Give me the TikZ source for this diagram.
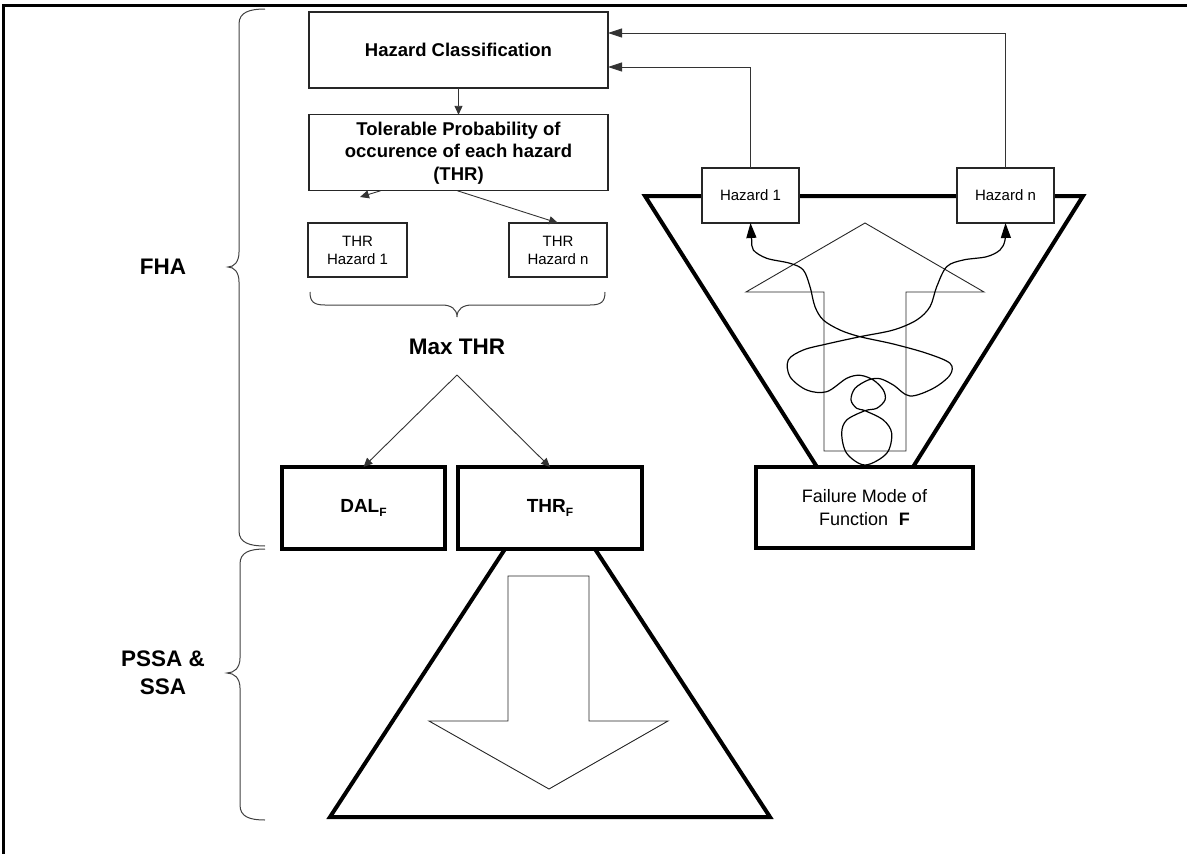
\documentclass[tikz,border=0pt]{standalone}
\usepackage{fontspec}
\setmainfont{Liberation Sans}
\usetikzlibrary{arrows.meta}
\newcommand\hcfont{\fontsize{18.5}{22.5}\selectfont\bfseries}
\newcommand\bigfont{\fontsize{22.5}{28}\selectfont\bfseries}
\newcommand\thickfont{\fontsize{19}{22}\selectfont\bfseries}
\newcommand\smallfont{\fontsize{15}{18}\selectfont}
\newcommand\fmfont{\fontsize{18}{23}\selectfont}
\newcommand\subF{\raisebox{-0.45ex}{\fontsize{12}{12}\selectfont\bfseries F}}
\begin{document}
\begin{tikzpicture}[x=1pt,y=-1pt,
  thinbox/.style={draw=black!85, line width=1.1pt, fill=white, inner sep=0pt,
    outer sep=0pt, align=center},
  thickbox/.style={draw=black, line width=4pt, fill=white, inner sep=0pt,
    outer sep=0pt, align=center},
  conn/.style={draw=black!80, line width=0.9pt},
  bigtip/.style={-{Triangle[length=14pt,width=9pt]}},
  smalltip/.style={-{Triangle[length=9pt,width=8pt]}},
  heavy/.style={line width=4pt, line join=miter},
  outline/.style={draw=black!85, line width=0.9pt, line join=miter},
  bracestyle/.style={draw=black!75, line width=1pt},
  wiggle/.style={line width=1.2pt, {Triangle[length=15pt,width=10pt]}-{Triangle[length=15pt,width=10pt]}}
]
\useasboundingbox (0,0) rectangle (1187,854);

% page frame (top and left edges)
\draw[line width=3pt] (3,854) -- (3,5) -- (1187,5);

% ---- left column: hazard classification chain ----
\node[thinbox, minimum width=299pt, minimum height=76pt, font=\hcfont] (hc) at (458.5,50) {Hazard Classification};
\node[thinbox, minimum width=299pt, minimum height=76pt, font=\hcfont] (tol) at (458.5,152.8) {Tolerable Probability of\\occurence of each hazard\\(THR)};
\node[thinbox, minimum width=99pt, minimum height=54pt, font=\smallfont] (thr1) at (357.5,250) {THR\\Hazard 1};
\node[thinbox, minimum width=98pt, minimum height=54pt, font=\smallfont] (thrn) at (558,250) {THR\\Hazard n};

\draw[conn, smalltip] (hc.south) -- (tol.north);
\coordinate (l1) at (360,197);
\draw[conn, smalltip] ([xshift=-78pt]tol.south) -- (l1);
\draw[conn, smalltip] ([xshift=-1pt]tol.south) -- (thrn.north);

% brace gathering the per-hazard THR values
\draw[bracestyle] (310,292) .. controls (310,302) and (314,305) .. (325,305) -- (442,305)
  .. controls (451,305) and (457,309) .. (457,317)
  .. controls (457,309) and (463,305) .. (472,305) -- (590,305)
  .. controls (601,305) and (605,302) .. (605,292);

\node[font=\bigfont] (maxthr) at (457,347) {Max THR};
\coordinate (split) at (457,375);

\node[thickbox, minimum width=163pt, minimum height=82pt, font=\thickfont] (dal) at (363.5,508) {DAL\subF};
\node[thickbox, minimum width=184pt, minimum height=82pt, font=\thickfont] (thrf) at (550,508) {THR\subF};

\draw[conn, smalltip] (split) -- (dal.north);
\draw[conn, smalltip] (split) -- (thrf.north);

% downward flow into PSSA & SSA
\draw[heavy] (505,549) -- (330,817) -- (770,817) -- (595,549);
\draw[outline] (508,576) -- (589,576) -- (589,721) -- (668,721) -- (549,789)
  -- (429,721) -- (508,721) -- cycle;

% ---- right column: failure mode funnel ----
\draw[heavy] (817,467) -- (645,196) -- (1083,196) -- (913,467);
\draw[outline] (865,223) -- (984,292) -- (906,292) -- (906,451) -- (824,451)
  -- (824,292) -- (746,292) -- cycle;

\node[thinbox, minimum width=97pt, minimum height=55pt, font=\smallfont] (hz1) at (750.5,195.5) {Hazard 1};
\node[thinbox, minimum width=97pt, minimum height=55pt, font=\smallfont] (hzn) at (1005.5,195.5) {Hazard n};
\node[thickbox, minimum width=217pt, minimum height=81pt, font=\fmfont] (fm) at (864.5,507.5) {Failure Mode of\\Function\hspace{0.6em}\textbf{F}};

\draw[conn, bigtip] (hz1.north) |- ([yshift=-17pt]hc.east);
\draw[conn, bigtip] (hzn.north) |- ([yshift=17pt]hc.east);

% tangled propagation path from the failure mode to the hazards
\draw[wiggle] plot[smooth, tension=0.55] coordinates {
  (hz1.south) (751.7,240) (753.3,250) (766.7,258.3) (790,263.3) (803.3,270)
  (810,286.7) (815,306.7) (823.3,320) (840,330) (860,336.7) (893.3,344)
  (926.7,353.3) (950,363.3) (950,375) (933.3,388.3) (910,396) (893.3,385)
  (880,378.7) (868.3,380) (855,388.3) (851,400) (856.7,408.3) (865,410.7)
  (883.3,420) (891.7,433.3) (886.7,453.3) (865,465) (846.7,453.3)
  (841.7,433.3) (846.7,420) (865,410.7) (876.7,408.3) (885,400) (883.3,390)
  (873.3,380) (860,375.3) (846.7,378.3) (826.7,391.7) (806.7,390)
  (790,376.7) (788.3,360) (803.3,350) (826.7,344) (860,336.7) (893.3,330)
  (916.7,320) (930,306.7) (936.7,286.7) (946.7,266.7) (963.3,260)
  (986.7,256.7) (1000,250) (1005,240) (hzn.south)};

% ---- phase braces ----
\draw[bracestyle] (265,9) .. controls (250,9) and (239,12) .. (239,24) -- (239,252)
  .. controls (239,262) and (234,267) .. (228,267)
  .. controls (234,267) and (239,272) .. (239,282) -- (239,531)
  .. controls (239,543) and (250,546) .. (265,546);
\draw[bracestyle] (265,549) .. controls (250,549) and (240,552) .. (240,564) -- (240,658)
  .. controls (240,668) and (234,673) .. (227,673)
  .. controls (234,673) and (240,678) .. (240,688) -- (240,805)
  .. controls (240,817) and (250,820) .. (265,820);

\node[font=\bigfont] (fha) at (163,267) {FHA};
\node[font=\bigfont, align=center] (pssa) at (163,673) {PSSA \&\\SSA};
\end{tikzpicture}
\end{document}
